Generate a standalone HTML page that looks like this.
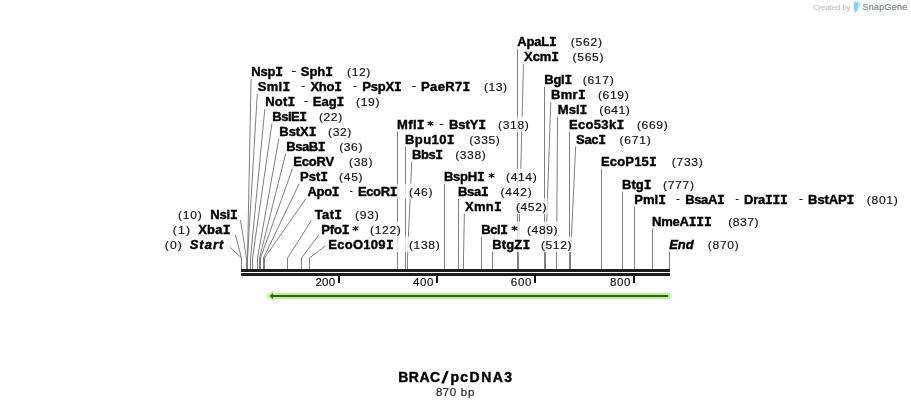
<!DOCTYPE html><html><head><meta charset="utf-8"><style>html,body{margin:0;padding:0;background:#fff;}svg{display:block}text{font-family:"Liberation Sans",sans-serif}</style></head><body><svg style="will-change:transform" width="911" height="408" viewBox="0 0 911 408"><rect width="911" height="408" fill="#fff"/><g fill="none" stroke="#7f7f7f" stroke-width="1"><path d="M241.50 269V258L230.20 247.30"/><path d="M241.50 269V258L235.40 235.00"/><path d="M246.50 269V258L240.50 220.20"/><path d="M247.50 269V258L251.10 77.20"/><path d="M247.50 269V258L257.40 92.20"/><path d="M250.50 269V258L265.00 107.20"/><path d="M252.50 269V258L272.10 122.20"/><path d="M257.50 269V258L279.10 137.20"/><path d="M259.50 269V258L286.00 152.20"/><path d="M260.50 269V258L293.00 167.20"/><path d="M263.50 269V258L299.90 182.20"/><path d="M264.50 269V258L306.90 197.20"/><path d="M287.50 269V258L312.25 219.20"/><path d="M301.50 269V258L318.90 234.75"/><path d="M309.50 269V258L325.60 245.60"/><path d="M397.50 269V130.20"/><path d="M405.50 269V145.20"/><path d="M407.50 269V258L411.80 160.20"/><path d="M444.50 269V182.20"/><path d="M458.50 269V197.20"/><path d="M463.50 269V258L464.40 212.20"/><path d="M481.50 269V235.20"/><path d="M492.50 269V250.20"/><path d="M517.50 269V47.20"/><path d="M518.50 269V258L523.50 62.20"/><path d="M544.50 269V85.20"/><path d="M545.50 269V258L550.80 100.20"/><path d="M556.50 269V258L557.60 115.20"/><path d="M569.50 269V130.20"/><path d="M570.50 269V258L575.70 145.20"/><path d="M601.50 269V167.20"/><path d="M622.50 269V190.20"/><path d="M634.50 269V205.20"/><path d="M652.50 269V227.20"/><path d="M669.50 269V250.20"/></g><g fill="#fff" fill-opacity="0.75"><rect x="248.6" y="63.6" width="123.1" height="15.4"/><rect x="254.9" y="78.6" width="253.5" height="15.4"/><rect x="262.5" y="93.6" width="118.3" height="15.4"/><rect x="269.6" y="108.6" width="74.0" height="15.4"/><rect x="276.6" y="123.6" width="76.1" height="15.4"/><rect x="283.5" y="138.6" width="80.3" height="15.4"/><rect x="290.5" y="153.6" width="83.3" height="15.4"/><rect x="297.4" y="168.6" width="66.6" height="15.4"/><rect x="304.4" y="183.6" width="129.5" height="15.4"/><rect x="311.4" y="206.6" width="68.8" height="15.4"/><rect x="318.6" y="221.6" width="83.4" height="15.4"/><rect x="325.5" y="236.6" width="115.4" height="15.4"/><rect x="175.3" y="206.6" width="63.8" height="15.4"/><rect x="170.2" y="221.6" width="61.4" height="15.4"/><rect x="162.2" y="236.6" width="63.6" height="15.4"/><rect x="394.4" y="116.6" width="135.6" height="15.4"/><rect x="402.3" y="131.6" width="98.7" height="15.4"/><rect x="409.3" y="146.6" width="77.7" height="15.4"/><rect x="441.2" y="168.6" width="96.8" height="15.4"/><rect x="455.3" y="183.6" width="77.7" height="15.4"/><rect x="461.9" y="198.6" width="85.8" height="15.4"/><rect x="478.5" y="221.6" width="80.3" height="15.4"/><rect x="489.5" y="236.6" width="83.2" height="15.4"/><rect x="514.2" y="33.6" width="89.0" height="15.4"/><rect x="521.0" y="48.6" width="83.7" height="15.4"/><rect x="541.6" y="71.6" width="73.3" height="15.4"/><rect x="548.3" y="86.6" width="81.7" height="15.4"/><rect x="555.1" y="101.6" width="75.9" height="15.4"/><rect x="566.3" y="116.6" width="102.7" height="15.4"/><rect x="573.2" y="131.6" width="78.8" height="15.4"/><rect x="598.3" y="153.6" width="105.7" height="15.4"/><rect x="619.4" y="176.6" width="75.8" height="15.4"/><rect x="631.5" y="191.6" width="267.5" height="15.4"/><rect x="649.3" y="213.6" width="110.5" height="15.4"/><rect x="666.2" y="236.6" width="73.8" height="15.4"/></g><rect x="241" y="269" width="429" height="3" fill="#1c1c1c"/><rect x="241" y="273" width="429" height="3" fill="#1c1c1c"/><rect x="338" y="276" width="2" height="7" fill="#111"/><rect x="436" y="276" width="2" height="7" fill="#111"/><rect x="534" y="276" width="2" height="7" fill="#111"/><rect x="633" y="276" width="2" height="7" fill="#111"/><path d="M266.3 295.9L273.8 290.1V293H670V299H273.8V301.8Z" fill="#b4f88b"/><path d="M269.8 296L273 293.2V295H668V297H273V298.9Z" fill="#3d5433"/><text x="251.31" y="76.00" font-size="13" fill="#000" letter-spacing="-0.201" font-weight="bold" stroke="#000" stroke-width="0.4">Nsp<tspan font-family="Liberation Mono">I</tspan></text><rect x="291.90" y="71.00" width="4.00" height="1" fill="#222"/><text x="300.83" y="76.00" font-size="13" fill="#000" letter-spacing="-0.076" font-weight="bold" stroke="#000" stroke-width="0.4">Sph<tspan font-family="Liberation Mono">I</tspan></text><text x="315.56" y="76.00" font-size="11" fill="#111" letter-spacing="0.529" transform="scale(1.1 1)" stroke="#111" stroke-width="0.15">(12)</text><text x="257.73" y="91.00" font-size="13" fill="#000" letter-spacing="0.334" font-weight="bold" stroke="#000" stroke-width="0.4">Sml<tspan font-family="Liberation Mono">I</tspan></text><rect x="301.50" y="86.00" width="3.30" height="1" fill="#222"/><text x="310.38" y="91.00" font-size="13" fill="#000" letter-spacing="-0.192" font-weight="bold" stroke="#000" stroke-width="0.4">Xho<tspan font-family="Liberation Mono">I</tspan></text><rect x="353.40" y="86.00" width="3.30" height="1" fill="#222"/><text x="362.31" y="91.00" font-size="13" fill="#000" letter-spacing="-0.226" font-weight="bold" stroke="#000" stroke-width="0.4">PspX<tspan font-family="Liberation Mono">I</tspan></text><rect x="412.10" y="86.00" width="3.50" height="1" fill="#222"/><text x="421.11" y="91.00" font-size="13" fill="#000" letter-spacing="0.325" font-weight="bold" stroke="#000" stroke-width="0.4">PaeR7<tspan font-family="Liberation Mono">I</tspan></text><text x="439.92" y="91.00" font-size="11" fill="#111" letter-spacing="0.499" transform="scale(1.1 1)" stroke="#111" stroke-width="0.15">(13)</text><text x="265.21" y="106.00" font-size="13" fill="#000" letter-spacing="0.176" font-weight="bold" stroke="#000" stroke-width="0.4">Not<tspan font-family="Liberation Mono">I</tspan></text><rect x="304.30" y="101.00" width="3.30" height="1" fill="#222"/><text x="312.81" y="106.00" font-size="13" fill="#000" letter-spacing="-0.024" font-weight="bold" stroke="#000" stroke-width="0.4">Eag<tspan font-family="Liberation Mono">I</tspan></text><text x="323.65" y="106.00" font-size="11" fill="#111" letter-spacing="0.590" transform="scale(1.1 1)" stroke="#111" stroke-width="0.15">(19)</text><text x="272.31" y="121.00" font-size="13" fill="#000" letter-spacing="-0.477" font-weight="bold" stroke="#000" stroke-width="0.4">BsiE<tspan font-family="Liberation Mono">I</tspan></text><text x="289.92" y="121.00" font-size="11" fill="#111" letter-spacing="0.559" transform="scale(1.1 1)" stroke="#111" stroke-width="0.15">(22)</text><text x="279.31" y="136.00" font-size="13" fill="#000" letter-spacing="-0.043" font-weight="bold" stroke="#000" stroke-width="0.4">BstX<tspan font-family="Liberation Mono">I</tspan></text><text x="298.29" y="136.00" font-size="11" fill="#111" letter-spacing="0.529" transform="scale(1.1 1)" stroke="#111" stroke-width="0.15">(32)</text><text x="286.21" y="151.00" font-size="13" fill="#000" letter-spacing="-0.451" font-weight="bold" stroke="#000" stroke-width="0.4">BsaB<tspan font-family="Liberation Mono">I</tspan></text><text x="308.38" y="151.00" font-size="11" fill="#111" letter-spacing="0.529" transform="scale(1.1 1)" stroke="#111" stroke-width="0.15">(36)</text><text x="293.21" y="166.00" font-size="13" fill="#000" letter-spacing="-0.144" font-weight="bold" stroke="#000" stroke-width="0.4">EcoRV</text><text x="317.29" y="166.00" font-size="11" fill="#111" letter-spacing="0.590" transform="scale(1.1 1)" stroke="#111" stroke-width="0.15">(38)</text><text x="300.11" y="181.00" font-size="13" fill="#000" letter-spacing="-0.002" font-weight="bold" stroke="#000" stroke-width="0.4">Pst<tspan font-family="Liberation Mono">I</tspan></text><text x="308.19" y="181.00" font-size="11" fill="#111" letter-spacing="0.650" transform="scale(1.1 1)" stroke="#111" stroke-width="0.15">(45)</text><text x="307.43" y="196.00" font-size="13" fill="#000" letter-spacing="-0.310" font-weight="bold" stroke="#000" stroke-width="0.4">Apo<tspan font-family="Liberation Mono">I</tspan></text><rect x="349.90" y="191.00" width="2.60" height="1" fill="#222"/><text x="357.91" y="196.00" font-size="13" fill="#000" letter-spacing="-0.351" font-weight="bold" stroke="#000" stroke-width="0.4">EcoR<tspan font-family="Liberation Mono">I</tspan></text><text x="371.74" y="196.00" font-size="11" fill="#111" letter-spacing="0.650" transform="scale(1.1 1)" stroke="#111" stroke-width="0.15">(46)</text><text x="314.76" y="219.00" font-size="13" fill="#000" letter-spacing="0.347" font-weight="bold" stroke="#000" stroke-width="0.4">Tat<tspan font-family="Liberation Mono">I</tspan></text><text x="322.65" y="219.00" font-size="11" fill="#111" letter-spacing="0.741" transform="scale(1.1 1)" stroke="#111" stroke-width="0.15">(93)</text><text x="321.31" y="234.00" font-size="13" fill="#000" letter-spacing="-0.137" font-weight="bold" stroke="#000" stroke-width="0.4">Pfo<tspan font-family="Liberation Mono">I</tspan></text><g transform="translate(355.5 228.5)" fill="#000"><rect x="-0.6" y="-2.7" width="1.2" height="5.4"/><rect x="-0.6" y="-3.2" width="1.2" height="6.4" transform="rotate(62)"/><rect x="-0.6" y="-3.2" width="1.2" height="6.4" transform="rotate(-62)"/></g><text x="336.47" y="234.00" font-size="11" fill="#111" letter-spacing="0.556" transform="scale(1.1 1)" stroke="#111" stroke-width="0.15">(122)</text><text x="328.21" y="249.00" font-size="13" fill="#000" letter-spacing="0.290" font-weight="bold" stroke="#000" stroke-width="0.4">EcoO109<tspan font-family="Liberation Mono">I</tspan></text><text x="371.74" y="249.00" font-size="11" fill="#111" letter-spacing="0.579" transform="scale(1.1 1)" stroke="#111" stroke-width="0.15">(138)</text><text x="161.74" y="219.00" font-size="11" fill="#111" letter-spacing="0.711" transform="scale(1.1 1)" stroke="#111" stroke-width="0.15">(10)</text><text x="210.31" y="219.00" font-size="13" fill="#000" letter-spacing="-0.169" font-weight="bold" stroke="#000" stroke-width="0.4">Nsi<tspan font-family="Liberation Mono">I</tspan></text><text x="157.10" y="234.00" font-size="11" fill="#111" letter-spacing="1.087" transform="scale(1.1 1)" stroke="#111" stroke-width="0.15">(1)</text><text x="198.18" y="234.00" font-size="13" fill="#000" letter-spacing="0.218" font-weight="bold" stroke="#000" stroke-width="0.4">Xba<tspan font-family="Liberation Mono">I</tspan></text><text x="149.83" y="249.00" font-size="11" fill="#111" letter-spacing="1.042" transform="scale(1.1 1)" stroke="#111" stroke-width="0.15">(0)</text><text x="189.69" y="249.00" font-size="13" fill="#000" letter-spacing="0.996" font-weight="bold" stroke="#000" stroke-width="0.4" font-style="italic">Start</text><text x="397.11" y="129.00" font-size="13" fill="#000" letter-spacing="0.309" font-weight="bold" stroke="#000" stroke-width="0.4">Mfl<tspan font-family="Liberation Mono">I</tspan></text><g transform="translate(430.5 123.5)" fill="#000"><rect x="-0.6" y="-2.7" width="1.2" height="5.4"/><rect x="-0.6" y="-3.2" width="1.2" height="6.4" transform="rotate(62)"/><rect x="-0.6" y="-3.2" width="1.2" height="6.4" transform="rotate(-62)"/></g><rect x="439.70" y="124.00" width="3.80" height="1" fill="#222"/><text x="449.01" y="129.00" font-size="13" fill="#000" letter-spacing="-0.068" font-weight="bold" stroke="#000" stroke-width="0.4">BstY<tspan font-family="Liberation Mono">I</tspan></text><text x="452.74" y="129.00" font-size="11" fill="#111" letter-spacing="0.579" transform="scale(1.1 1)" stroke="#111" stroke-width="0.15">(318)</text><text x="405.01" y="144.00" font-size="13" fill="#000" letter-spacing="0.425" font-weight="bold" stroke="#000" stroke-width="0.4">Bpu10<tspan font-family="Liberation Mono">I</tspan></text><text x="426.56" y="144.00" font-size="11" fill="#111" letter-spacing="0.533" transform="scale(1.1 1)" stroke="#111" stroke-width="0.15">(335)</text><text x="412.01" y="159.00" font-size="13" fill="#000" letter-spacing="-0.401" font-weight="bold" stroke="#000" stroke-width="0.4">Bbs<tspan font-family="Liberation Mono">I</tspan></text><text x="413.83" y="159.00" font-size="11" fill="#111" letter-spacing="0.533" transform="scale(1.1 1)" stroke="#111" stroke-width="0.15">(338)</text><text x="443.91" y="181.00" font-size="13" fill="#000" letter-spacing="-0.202" font-weight="bold" stroke="#000" stroke-width="0.4">BspH<tspan font-family="Liberation Mono">I</tspan></text><g transform="translate(491.5 175.5)" fill="#000"><rect x="-0.6" y="-2.7" width="1.2" height="5.4"/><rect x="-0.6" y="-3.2" width="1.2" height="6.4" transform="rotate(62)"/><rect x="-0.6" y="-3.2" width="1.2" height="6.4" transform="rotate(-62)"/></g><text x="460.01" y="181.00" font-size="11" fill="#111" letter-spacing="0.579" transform="scale(1.1 1)" stroke="#111" stroke-width="0.15">(414)</text><text x="458.01" y="196.00" font-size="13" fill="#000" letter-spacing="-0.291" font-weight="bold" stroke="#000" stroke-width="0.4">Bsa<tspan font-family="Liberation Mono">I</tspan></text><text x="455.01" y="196.00" font-size="11" fill="#111" letter-spacing="0.692" transform="scale(1.1 1)" stroke="#111" stroke-width="0.15">(442)</text><text x="464.98" y="211.00" font-size="13" fill="#000" letter-spacing="0.307" font-weight="bold" stroke="#000" stroke-width="0.4">Xmn<tspan font-family="Liberation Mono">I</tspan></text><text x="469.01" y="211.00" font-size="11" fill="#111" letter-spacing="0.533" transform="scale(1.1 1)" stroke="#111" stroke-width="0.15">(452)</text><text x="481.21" y="234.00" font-size="13" fill="#000" letter-spacing="-0.369" font-weight="bold" stroke="#000" stroke-width="0.4">Bcl<tspan font-family="Liberation Mono">I</tspan></text><g transform="translate(514.5 228.5)" fill="#000"><rect x="-0.6" y="-2.7" width="1.2" height="5.4"/><rect x="-0.6" y="-3.2" width="1.2" height="6.4" transform="rotate(62)"/><rect x="-0.6" y="-3.2" width="1.2" height="6.4" transform="rotate(-62)"/></g><text x="479.10" y="234.00" font-size="11" fill="#111" letter-spacing="0.533" transform="scale(1.1 1)" stroke="#111" stroke-width="0.15">(489)</text><text x="492.21" y="249.00" font-size="13" fill="#000" letter-spacing="0.149" font-weight="bold" stroke="#000" stroke-width="0.4">BtgZ<tspan font-family="Liberation Mono">I</tspan></text><text x="491.74" y="249.00" font-size="11" fill="#111" letter-spacing="0.533" transform="scale(1.1 1)" stroke="#111" stroke-width="0.15">(512)</text><text x="517.23" y="46.00" font-size="13" fill="#000" letter-spacing="-0.182" font-weight="bold" stroke="#000" stroke-width="0.4">ApaL<tspan font-family="Liberation Mono">I</tspan></text><text x="518.83" y="46.00" font-size="11" fill="#111" letter-spacing="0.692" transform="scale(1.1 1)" stroke="#111" stroke-width="0.15">(562)</text><text x="524.08" y="61.00" font-size="13" fill="#000" letter-spacing="-0.092" font-weight="bold" stroke="#000" stroke-width="0.4">Xcm<tspan font-family="Liberation Mono">I</tspan></text><text x="520.56" y="61.00" font-size="11" fill="#111" letter-spacing="0.601" transform="scale(1.1 1)" stroke="#111" stroke-width="0.15">(565)</text><text x="544.31" y="84.00" font-size="13" fill="#000" letter-spacing="-0.270" font-weight="bold" stroke="#000" stroke-width="0.4">Bgl<tspan font-family="Liberation Mono">I</tspan></text><text x="529.83" y="84.00" font-size="11" fill="#111" letter-spacing="0.601" transform="scale(1.1 1)" stroke="#111" stroke-width="0.15">(617)</text><text x="551.01" y="99.00" font-size="13" fill="#000" letter-spacing="0.330" font-weight="bold" stroke="#000" stroke-width="0.4">Bmr<tspan font-family="Liberation Mono">I</tspan></text><text x="543.56" y="99.00" font-size="11" fill="#111" letter-spacing="0.601" transform="scale(1.1 1)" stroke="#111" stroke-width="0.15">(619)</text><text x="557.81" y="114.00" font-size="13" fill="#000" letter-spacing="0.042" font-weight="bold" stroke="#000" stroke-width="0.4">Msl<tspan font-family="Liberation Mono">I</tspan></text><text x="544.83" y="114.00" font-size="11" fill="#111" letter-spacing="0.511" transform="scale(1.1 1)" stroke="#111" stroke-width="0.15">(641)</text><text x="569.01" y="129.00" font-size="13" fill="#000" letter-spacing="0.316" font-weight="bold" stroke="#000" stroke-width="0.4">Eco53k<tspan font-family="Liberation Mono">I</tspan></text><text x="579.01" y="129.00" font-size="11" fill="#111" letter-spacing="0.601" transform="scale(1.1 1)" stroke="#111" stroke-width="0.15">(669)</text><text x="576.03" y="144.00" font-size="13" fill="#000" letter-spacing="-0.277" font-weight="bold" stroke="#000" stroke-width="0.4">Sac<tspan font-family="Liberation Mono">I</tspan></text><text x="563.19" y="144.00" font-size="11" fill="#111" letter-spacing="0.692" transform="scale(1.1 1)" stroke="#111" stroke-width="0.15">(671)</text><text x="601.01" y="166.00" font-size="13" fill="#000" letter-spacing="0.165" font-weight="bold" stroke="#000" stroke-width="0.4">EcoP15<tspan font-family="Liberation Mono">I</tspan></text><text x="610.74" y="166.00" font-size="11" fill="#111" letter-spacing="0.624" transform="scale(1.1 1)" stroke="#111" stroke-width="0.15">(733)</text><text x="622.11" y="189.00" font-size="13" fill="#000" letter-spacing="0.009" font-weight="bold" stroke="#000" stroke-width="0.4">Btg<tspan font-family="Liberation Mono">I</tspan></text><text x="602.65" y="189.00" font-size="11" fill="#111" letter-spacing="0.647" transform="scale(1.1 1)" stroke="#111" stroke-width="0.15">(777)</text><text x="634.21" y="204.00" font-size="13" fill="#000" letter-spacing="0.076" font-weight="bold" stroke="#000" stroke-width="0.4">Pml<tspan font-family="Liberation Mono">I</tspan></text><rect x="676.30" y="199.00" width="3.20" height="1" fill="#222"/><text x="685.21" y="204.00" font-size="13" fill="#000" letter-spacing="-0.376" font-weight="bold" stroke="#000" stroke-width="0.4">BsaA<tspan font-family="Liberation Mono">I</tspan></text><rect x="735.70" y="199.00" width="2.80" height="1" fill="#222"/><text x="744.11" y="204.00" font-size="13" fill="#000" letter-spacing="-0.301" font-weight="bold" stroke="#000" stroke-width="0.4">Dra<tspan font-family="Liberation Mono">I</tspan><tspan font-family="Liberation Mono">I</tspan><tspan font-family="Liberation Mono">I</tspan></text><rect x="799.40" y="199.00" width="3.10" height="1" fill="#222"/><text x="808.11" y="204.00" font-size="13" fill="#000" letter-spacing="-0.102" font-weight="bold" stroke="#000" stroke-width="0.4">BstAP<tspan font-family="Liberation Mono">I</tspan></text><text x="788.01" y="204.00" font-size="11" fill="#111" letter-spacing="0.624" transform="scale(1.1 1)" stroke="#111" stroke-width="0.15">(801)</text><text x="652.01" y="226.00" font-size="13" fill="#000" letter-spacing="-0.218" font-weight="bold" stroke="#000" stroke-width="0.4">NmeA<tspan font-family="Liberation Mono">I</tspan><tspan font-family="Liberation Mono">I</tspan><tspan font-family="Liberation Mono">I</tspan></text><text x="662.01" y="226.00" font-size="11" fill="#111" letter-spacing="0.488" transform="scale(1.1 1)" stroke="#111" stroke-width="0.15">(837)</text><text x="669.33" y="249.00" font-size="13" fill="#000" letter-spacing="-0.148" font-weight="bold" stroke="#000" stroke-width="0.4" font-style="italic">End</text><text x="643.38" y="249.00" font-size="11" fill="#111" letter-spacing="0.647" transform="scale(1.1 1)" stroke="#111" stroke-width="0.15">(870)</text><text x="300.37" y="286.00" font-size="11" fill="#111" letter-spacing="0.300" transform="scale(1.05 1)" stroke="#111" stroke-width="0.15">200</text><text x="393.33" y="286.00" font-size="11" fill="#111" letter-spacing="0.534" transform="scale(1.05 1)" stroke="#111" stroke-width="0.15">400</text><text x="486.53" y="286.00" font-size="11" fill="#111" letter-spacing="0.601" transform="scale(1.05 1)" stroke="#111" stroke-width="0.15">600</text><text x="580.88" y="286.00" font-size="11" fill="#111" letter-spacing="0.616" transform="scale(1.05 1)" stroke="#111" stroke-width="0.15">800</text><text x="398.31" y="382.00" font-size="14" fill="#000" letter-spacing="0.441" font-weight="bold" stroke="#000" stroke-width="0.4">BRAC</text><text x="450.38" y="382.00" font-size="14" fill="#000" letter-spacing="1.440" font-weight="bold" stroke="#000" stroke-width="0.4">pcDNA3</text><text x="415.16" y="396.00" font-size="11" fill="#1a1a1a" letter-spacing="0.473" transform="scale(1.05 1)" stroke="#1a1a1a" stroke-width="0.15">870</text><text x="438.90" y="396.00" font-size="11" fill="#1a1a1a" letter-spacing="0.790" transform="scale(1.05 1)" stroke="#1a1a1a" stroke-width="0.15">bp</text><text x="813.28" y="10.40" font-size="8" fill="#bcbcbc" letter-spacing="-0.199" stroke="#bcbcbc" stroke-width="0.1">Created by</text><text x="862.50" y="10.45" font-size="9" fill="#7f868f" letter-spacing="0.254" stroke="#7f868f" stroke-width="0.2">SnapGene</text><path d="M441.2 383.6H443.9L448.8 371H446.1Z" fill="#000"/><rect x="853" y="1.2" width="5.2" height="1.3" fill="#c8eafb"/><path d="M853.8 2.3H858.1V7Q857.6 10.5 855.6 12.9Q854 10.5 853.8 8.6Z" fill="#86cff8"/><path d="M858.1 2H859.2Q860.4 2.4 860.4 4.8Q860.4 7.1 859.2 7.6H858.1Z" fill="#acdcf8"/></svg></body></html>
